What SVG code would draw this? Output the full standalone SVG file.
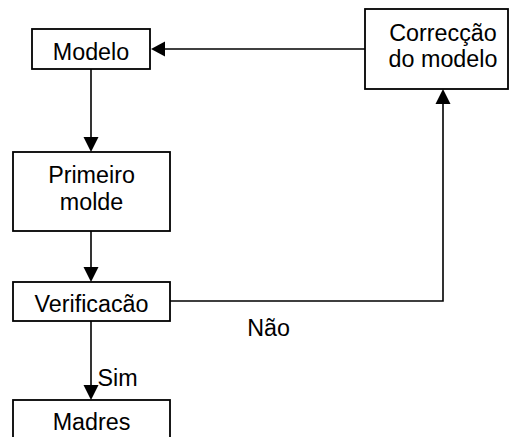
<svg xmlns="http://www.w3.org/2000/svg" width="510" height="437" viewBox="0 0 510 437">
  <style>
    .box { fill: #fff; stroke: #000; stroke-width: 1.8; }
    .lbl { font-family: "Liberation Sans", Arial, sans-serif; font-size: 23.3px; fill: #000; text-anchor: middle; }
    .edge { fill: none; stroke: #000; stroke-width: 1.6; }
    .head { fill: #000; stroke: none; }
  </style>
  <rect width="510" height="437" fill="#fff"/>

  <g id="connectors">
    <!-- Correcção do modelo -> Modelo -->
    <line class="edge" x1="365" y1="49" x2="163" y2="49"/>
    <polygon class="head" points="151,49 165,41.5 165,56.5"/>
    <!-- Modelo -> Primeiro molde -->
    <line class="edge" x1="91" y1="69" x2="91" y2="139"/>
    <polygon class="head" points="91,152 83.5,137 98.5,137"/>
    <!-- Primeiro molde -> Verificacão -->
    <line class="edge" x1="91" y1="231" x2="91" y2="269"/>
    <polygon class="head" points="91,282 83.5,267 98.5,267"/>
    <!-- Verificacão -> Correcção do modelo (Não) -->
    <polyline class="edge" points="170,301 443,301 443,102"/>
    <polygon class="head" points="443,89 435.5,104 450.5,104"/>
    <!-- Verificacão -> Madres (Sim) -->
    <line class="edge" x1="91" y1="321" x2="91" y2="387"/>
    <polygon class="head" points="91,400 83.5,385 98.5,385"/>
    <text class="lbl" x="268.5" y="336">Não</text>
    <text class="lbl" x="97.5" y="386" style="text-anchor:start">Sim</text>
  </g>

  <g id="modelo">
    <rect class="box" x="32" y="29" width="118" height="40"/>
    <text class="lbl" x="91" y="60">Modelo</text>
  </g>

  <g id="correccao">
    <rect class="box" x="365" y="9" width="143" height="80"/>
    <text class="lbl" x="443" y="41">Correcção</text>
    <text class="lbl" x="443" y="67">do modelo</text>
  </g>

  <g id="primeiro-molde">
    <rect class="box" x="13" y="152" width="157" height="79"/>
    <text class="lbl" x="91.5" y="183">Primeiro</text>
    <text class="lbl" x="91.5" y="210">molde</text>
  </g>

  <g id="verificacao">
    <rect class="box" x="13" y="282" width="157" height="39"/>
    <text class="lbl" x="91.5" y="312">Verificacão</text>
  </g>

  <g id="madres">
    <rect class="box" x="13" y="400" width="157" height="50"/>
    <text class="lbl" x="91.5" y="430">Madres</text>
  </g>
</svg>
